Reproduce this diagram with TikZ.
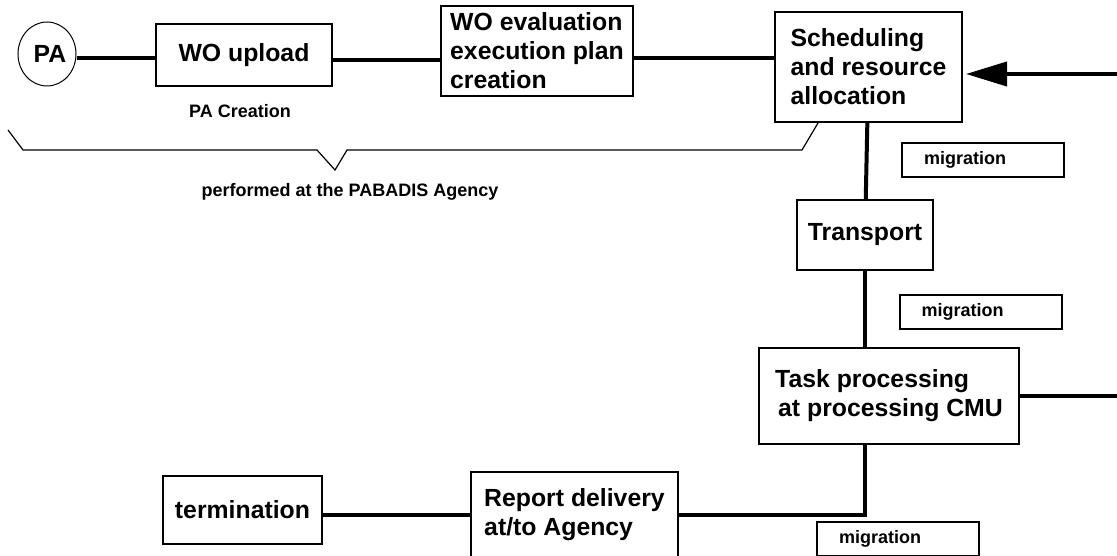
\documentclass[tikz,border=0pt]{standalone}
\usepackage{fontspec}
\setmainfont{Liberation Sans}
\usepackage{tikz}
\usetikzlibrary{shapes.geometric, arrows.meta, positioning}

\begin{document}
\begin{tikzpicture}[
    x=1pt, y=1pt,
    stage/.style={
        rectangle,
        draw,
        line width=2pt,
        align=left,
        inner sep=0pt,
        font=\bfseries\fontsize{24.8}{29}\selectfont
    },
    agent/.style={
        ellipse,
        draw,
        line width=1pt,
        minimum width=58pt,
        minimum height=64pt,
        inner sep=0pt,
        font=\bfseries\fontsize{24.8}{29}\selectfont
    },
    hop/.style={
        rectangle,
        draw,
        line width=2pt,
        text width=118pt,
        inner xsep=22pt,
        minimum height=34pt,
        align=left,
        font=\bfseries\fontsize{18}{22}\selectfont
    },
    note/.style={font=\bfseries\fontsize{18}{22}\selectfont},
    link/.style={line width=4pt},
    feed/.style={line width=4pt, -{Triangle[length=41pt, width=24pt]}}
]
    \useasboundingbox (0,0) rectangle (1117,-556);

    % Stages
    \node[agent] (pa) at (47,-54) {\hspace*{6pt}PA};
    \node[stage, minimum width=176pt, minimum height=62pt] (upload) at (244,-55) {WO upload};
    \node[stage, minimum width=192pt, minimum height=90pt] (evaluation) at (537,-51) {WO evaluation\\execution plan\\creation};
    \node[stage, minimum width=187pt, minimum height=110pt] (sched) at (868.5,-67) {Scheduling\\and resource\\allocation};
    \node[stage, minimum width=136pt, minimum height=70pt] (transport) at (865,-235) {Transport};
    \node[stage, minimum width=260pt, minimum height=96pt] (task) at (889,-396) {Task processing\\\hspace*{3pt}at processing CMU};
    \node[stage, minimum width=207pt, minimum height=86pt] (report) at (574.5,-515) {Report delivery\\at/to Agency};
    \node[stage, minimum width=159pt, minimum height=68pt] (termination) at (242.5,-510) {termination};

    % Migration tags
    \node[hop] (mig1) at (983,-160) {migration};
    \node[hop] (mig2) at (980.5,-312) {migration};
    \node[hop] (mig3) at (898,-538.5) {migration};

    % Notes and brace
    \node[note] (creation) at (240,-111) {PA Creation};
    \node[note] (agency) at (350,-192) {performed at the PABADIS Agency};
    \draw[line width=1.2pt] (8,-130) -- (23,-150) -- (317,-150) -- (335,-170) -- (347,-150) -- (802,-150) -- (818,-123);

    % Links
    \coordinate (inflow) at (1117,-74);
    \coordinate (outflow) at (1117,-396);
    \draw[link] (pa.east |- 0,-58) -- (upload.west |- 0,-58);
    \draw[link] (upload.east |- 0,-60) -- (evaluation.west |- 0,-60);
    \draw[link] (evaluation.east |- 0,-58) -- (sched.west |- 0,-58);
    \draw[feed, shorten >=3pt] (inflow) -- (sched.east |- inflow);
    \draw[link] (sched) -- (transport);
    \draw[link] (transport.south) -- (transport.south |- task.north);
    \draw[link] (task.east) -- (outflow);
    \draw[link] (task.south -| transport.south) |- (report.east);
    \draw[link] (report.west) -- (report.west -| termination.east);

\end{tikzpicture}
\end{document}
